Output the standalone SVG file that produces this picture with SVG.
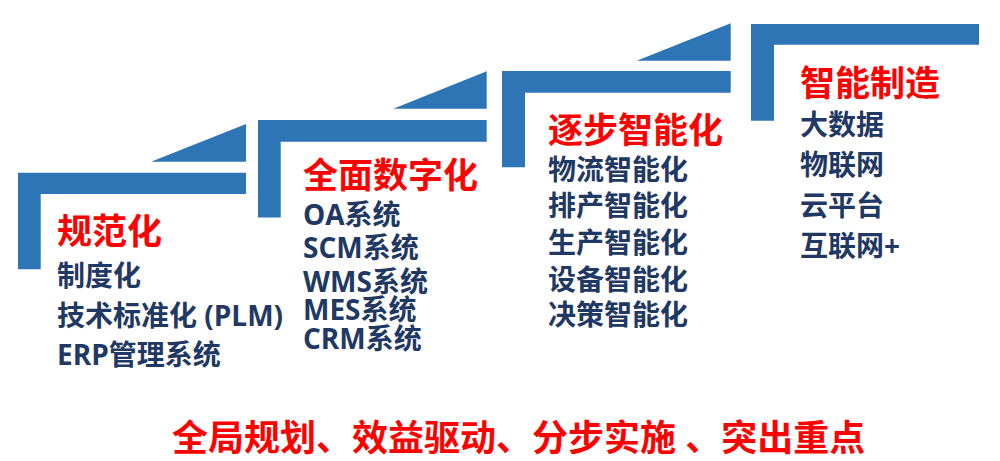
<svg xmlns="http://www.w3.org/2000/svg" width="1000" height="461" viewBox="0 0 1000 461">
<style>
.bar{fill:#2E75B6;}
.title{font-family:"Open Sans","Noto Sans CJK SC",sans-serif;font-weight:bold;font-size:35px;fill:#FF0000;}
.item{font-family:"Open Sans","Noto Sans CJK SC",sans-serif;font-weight:bold;font-size:28px;fill:#1F3864;}
.slogan{font-family:"Open Sans","Noto Sans CJK SC",sans-serif;font-weight:bold;font-size:36px;fill:#FF0000;}
</style>
<rect width="1000" height="461" fill="#FFFFFF"/>
<g id="connectors">
<path class="bar" d="M151,161.7 L246,124 V161.7 Z"/>
<path class="bar" d="M393.3,108.7 L486.7,71.3 V108.7 Z"/>
<path class="bar" d="M636.7,60.7 L730.7,23.3 V60.7 Z"/>
</g>
<g id="step1">
<path class="bar" d="M18,172.7 H246 V194 H40.7 V269.3 H18 Z"/>
<text class="title" x="57" y="244">规范化</text>
<text class="item" x="57" y="286">制度化</text>
<text class="item" x="57" y="326">技术标准化 (PLM)</text>
<text class="item" x="57" y="365">ERP管理系统</text>
</g>
<g id="step2">
<path class="bar" d="M258,120 H486.7 V141.7 H280.7 V217.5 H258 Z"/>
<text class="title" x="303" y="188">全面数字化</text>
<text class="item" x="303" y="225">OA系统</text>
<text class="item" x="303" y="258">SCM系统</text>
<text class="item" x="303" y="291.5">WMS系统</text>
<text class="item" x="303" y="320">MES系统</text>
<text class="item" x="303" y="349">CRM系统</text>
</g>
<g id="step3">
<path class="bar" d="M502,71 H730.7 V92.7 H525 V167.3 H502 Z"/>
<text class="title" x="548" y="143">逐步智能化</text>
<text class="item" x="548" y="179.5">物流智能化</text>
<text class="item" x="548" y="216">排产智能化</text>
<text class="item" x="548" y="253">生产智能化</text>
<text class="item" x="548" y="289.5">设备智能化</text>
<text class="item" x="548" y="324.5">决策智能化</text>
</g>
<g id="step4">
<path class="bar" d="M751,24 H979 V44.7 H774 V120.7 H751 Z"/>
<text class="title" x="800" y="96">智能制造</text>
<text class="item" x="800" y="134.5">大数据</text>
<text class="item" x="800" y="174.5">物联网</text>
<text class="item" x="800" y="216">云平台</text>
<text class="item" x="800" y="256">互联网+</text>
</g>
<g id="slogan">
<text class="slogan" x="172" y="451">全局规划、效益驱动、分步实施 、突出重点</text>
</g>
</svg>
